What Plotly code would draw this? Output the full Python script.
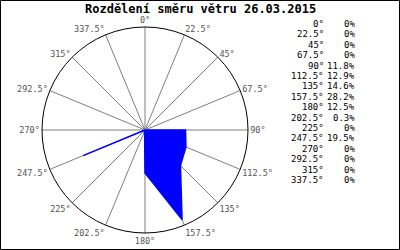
import plotly.graph_objects as go

title = "Rozdělení směru větru 26.03.2015"
directions = [0, 22.5, 45, 67.5, 90, 112.5, 135, 157.5, 180, 202.5, 225, 247.5, 270, 292.5, 315, 337.5]
dir_labels = ["0°", "22.5°", "45°", "67.5°", "90°", "112.5°", "135°", "157.5°", "180°",
              "202.5°", "225°", "247.5°", "270°", "292.5°", "315°", "337.5°"]
percent = [0, 0, 0, 0, 11.8, 12.9, 14.6, 28.2, 12.5, 0.3, 0, 19.5, 0, 0, 0, 0]
pct_labels = ["0%" if v == 0 else f"{v:.1f}%" for v in percent]

W, H = 400, 250
cx, cy, R = 145, 130, 103

fig = go.Figure()
fig.add_trace(go.Scatterpolar(
    r=percent, theta=directions, mode="lines", fill="toself",
    fillcolor="#0000ff", line=dict(color="#0000ff", width=1.5),
    hoverinfo="skip", showlegend=False,
))

fig.update_layout(
    width=W, height=H,
    margin=dict(l=0, r=0, t=0, b=0),
    paper_bgcolor="white", plot_bgcolor="white",
    showlegend=False,
    polar=dict(
        domain=dict(x=[(cx - R) / W, (cx + R) / W], y=[1 - (cy + R) / H, 1 - (cy - R) / H]),
        bgcolor="white",
        angularaxis=dict(
            direction="clockwise", rotation=90, thetaunit="degrees",
            tickmode="array", tickvals=directions, ticktext=dir_labels,
            ticks="", showline=True, linecolor="black", linewidth=1,
            showgrid=True, gridcolor="#808080", gridwidth=1,
            tickfont=dict(family="DejaVu Sans Mono", size=8.5, color="#555555"),
        ),
        radialaxis=dict(range=[0, 30], showgrid=False, showline=False,
                        showticklabels=False, ticks=""),
    ),
)

annotations = [dict(x=0.5, y=1 - 8.5 / H, xref="paper", yref="paper",
                    text="<b>" + title + "</b>", showarrow=False,
                    xanchor="center", yanchor="middle",
                    font=dict(family="DejaVu Sans Mono", size=12, color="black"))]
for i, (dl, pl) in enumerate(zip(dir_labels, pct_labels)):
    ypx = 24 + i * 10.4
    annotations.append(dict(x=326 / W, y=1 - ypx / H, xref="paper", yref="paper",
                            text=dl, showarrow=False, xanchor="right", yanchor="middle",
                            font=dict(family="DejaVu Sans Mono", size=9, color="black")))
    annotations.append(dict(x=357 / W, y=1 - ypx / H, xref="paper", yref="paper",
                            text=pl, showarrow=False, xanchor="right", yanchor="middle",
                            font=dict(family="DejaVu Sans Mono", size=9, color="black")))
fig.update_layout(annotations=annotations)

fig.add_shape(type="rect", xref="paper", yref="paper",
              x0=0.5 / W, x1=1 - 0.5 / W, y0=0.5 / H, y1=1 - 0.5 / H,
              line=dict(color="black", width=1), fillcolor="rgba(0,0,0,0)")

fig.write_html("out.html")
